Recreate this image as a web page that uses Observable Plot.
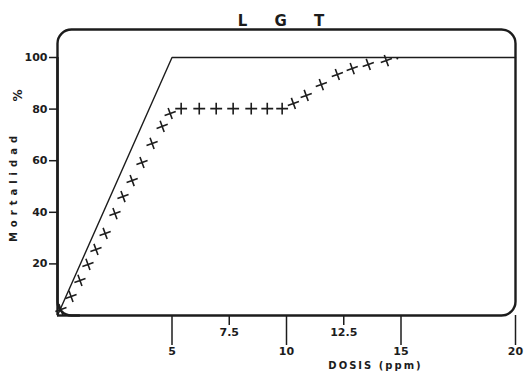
<!DOCTYPE html>
<html>
<head>
<meta charset="utf-8">
<script src="https://cdn.jsdelivr.net/npm/d3@7"></script>
<script src="https://cdn.jsdelivr.net/npm/@observablehq/plot@0.6"></script>
<style>
  body { margin: 0; background: #fff; }
</style>
</head>
<body>
<div id="chart"></div>
<script>
// Mortalidad observada (%) por dosis (ppm)
const dosis = [0.15, 0.59, 0.98, 1.33, 1.68, 2.08, 2.51, 2.86, 3.26, 3.69, 4.13, 4.57, 4.92,
               5.40, 6.19, 6.93, 7.67, 8.46, 9.16, 9.81,
               10.30, 10.86, 11.52, 12.22, 12.87, 13.57, 14.36];
const mortalidad = [2.3, 7.4, 13.6, 19.8, 25.6, 31.8, 39.5, 46.1, 52.3, 59.3, 66.7, 73.3, 78.3,
                    80.2, 80.2, 80.2, 80.2, 80.2, 80.2, 80.2,
                    82.2, 85.3, 89.5, 93.4, 95.7, 97.3, 98.8];
// punto aislado al final de la serie
const dosisFinal = [14.84];
const mortalidadFinal = [99.6];

// Respuesta teórica (línea continua)
const limiteDosis = [0, 5, 20];
const limiteMortalidad = [0, 100, 100];

// Marcas de los ejes
const xTicksLargos = [5, 10, 15, 20];
const xTicksCortos = [7.5, 12.5];
const yTicks = [20, 40, 60, 80, 100];

const puntos = dosis.map((x, i) => ({x, y: mortalidad[i]}));
const finales = dosisFinal.map((x, i) => ({x, y: mortalidadFinal[i]}));
const limite = limiteDosis.map((x, i) => ({x, y: limiteMortalidad[i]}));

const tinta = "#1c1c1c";
// las cruces en los tramos ascendentes aparecen inclinadas
const enMeseta = d => d.y > 79.5 && d.y < 81;
const formato = d => String(d);

const plot = Plot.plot({
  width: 526,
  height: 379,
  marginLeft: 57,
  marginRight: 11,
  marginTop: 57,
  marginBottom: 64,
  style: {
    background: "#fff",
    color: tinta,
    fontFamily: "'DejaVu Sans', sans-serif",
    fontSize: "11px",
    fontWeight: "bold",
    overflow: "visible"
  },
  x: {domain: [0, 20], axis: null},
  y: {domain: [0, 100], axis: null},
  marks: [
    Plot.frame({rx: 14, insetTop: -28, stroke: tinta, strokeWidth: 2.4}),
    Plot.ruleX([0], {stroke: tinta, strokeWidth: 2.4}),
    Plot.ruleY([0], {x1: 0, x2: 1, stroke: tinta, strokeWidth: 2.4}),
    Plot.axisY(yTicks, {tickSize: 8, tickPadding: 2, tickFormat: formato, stroke: tinta, strokeWidth: 1.5, fontSize: 11, label: null}),
    Plot.axisX(xTicksLargos, {tickSize: 30, tickPadding: 2, tickFormat: formato, stroke: tinta, strokeWidth: 1.5, fontSize: 11, label: null}),
    Plot.axisX(xTicksCortos, {tickSize: 10, tickPadding: 3, tickFormat: formato, stroke: tinta, strokeWidth: 1.5, fontSize: 11, label: null}),
    Plot.line(limite, {x: "x", y: "y", stroke: tinta, strokeWidth: 1.4}),
    Plot.dot(puntos, {
      x: "x", y: "y", symbol: "plus", r: 3.9,
      stroke: tinta, strokeWidth: 1.6,
      rotate: d => enMeseta(d) ? 0 : -20
    }),
    Plot.dot(finales, {x: "x", y: "y", r: 1, fill: tinta, stroke: null}),
    Plot.text(["L G T"], {text: d => d, frameAnchor: "top", textAnchor: "middle", dx: 0, dy: -42, fontSize: 15}),
    Plot.text(["Mortalidad"], {text: d => d, frameAnchor: "left", textAnchor: "middle", dx: -44, rotate: -90, fontSize: 10}),
    Plot.text(["%"], {text: d => d, frameAnchor: "top-left", textAnchor: "middle", dx: -44, dy: 38, rotate: -90, fontSize: 12}),
    Plot.text(["DOSIS (ppm)"], {text: d => d, frameAnchor: "bottom-right", textAnchor: "middle", dx: -140, dy: 53, fontSize: 10})
  ]
});

// espaciado de letras de los rótulos
const espaciado = {"L G T": "11px", "Mortalidad": "5px", "DOSIS (ppm)": "2px"};
d3.select(plot).selectAll("text").each(function() {
  const s = espaciado[this.textContent];
  if (s) this.style.letterSpacing = s;
});

document.getElementById("chart").append(plot);
</script>
</body>
</html>
